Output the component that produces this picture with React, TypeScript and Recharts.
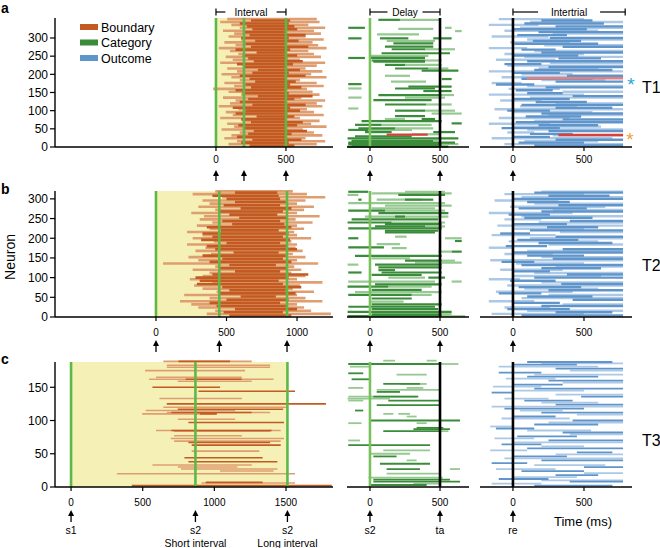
import React from "react";
import { ComposedChart, XAxis, YAxis, ReferenceLine, ReferenceArea } from "recharts";

// [neuron, start ms, end ms]
type Seg = [number, number, number];

const FONT = '"Liberation Sans", Arial, Helvetica, sans-serif';

// ---------- event times / ticks ----------
const intervalCuesA = [0, 200, 500];
const intervalCuesB = [0, 449, 929];
const intervalCuesC = [0, 868, 1510];
const intervalShadeEnds = [500, 929, 1510];
const delayEvents = [0, 500];
const intertrialEvents = [0];
const intertrialEnd = 790;

const intervalTicksA = [0, 500];
const intervalTicksB = [0, 500, 1000];
const intervalTicksC = [0, 500, 1000, 1500];
const delayTicks = [0, 500];
const intertrialTicks = [0, 500];
const neuronTicksAB = [0, 50, 100, 150, 200, 250, 300];
const neuronTicksC = [0, 50, 100, 150];

const legendItems = ["Boundary", "Category", "Outcome"];
const rowTags = ["T1", "T2", "T3"];

// ---------- row a ----------
const aIntervalStrong: Seg[] = [
  [4, 240, 560], [12, 180, 520], [20, 260, 610], [28, 150, 500], [36, 230, 540], [44, 270, 650],
  [52, 200, 505], [60, 160, 580], [68, 250, 620], [76, 180, 500], [84, 290, 560], [92, 140, 510],
  [100, 210, 600], [108, 120, 530], [116, 260, 640], [124, 170, 500], [132, 230, 560], [140, 300, 690],
  [148, 190, 520], [156, 140, 500], [164, 250, 610], [172, 210, 530], [180, 280, 570], [188, 240, 500],
  [196, 170, 640], [204, 260, 520], [212, 300, 600], [220, 200, 500], [228, 150, 550], [236, 270, 620],
  [244, 230, 510], [252, 190, 580], [260, 290, 500], [268, 140, 530], [276, 250, 660], [284, 210, 500],
  [292, 280, 590], [300, 180, 520], [308, 240, 640], [316, 200, 500], [324, 260, 580], [332, 220, 560],
  [340, 170, 520], [348, 250, 530],
];
const aIntervalWeak: Seg[] = [
  [8, 90, 720], [16, 150, 780], [24, 60, 640], [32, 110, 760], [40, 170, 700], [48, 40, 620],
  [56, 130, 790], [64, 80, 680], [72, 190, 740], [80, 30, 600], [88, 120, 770], [96, 70, 700],
  [104, 160, 650], [112, 20, 760], [120, 100, 720], [128, 140, 780], [136, 50, 610], [144, 180, 740],
  [152, 90, 690], [160, -20, 650], [168, 130, 770], [176, 60, 720], [184, 170, 600], [192, 110, 790],
  [200, 40, 680], [208, 150, 760], [216, 80, 640], [224, 190, 720], [232, 30, 780], [240, 120, 600],
  [248, 70, 750], [256, 160, 700], [264, 100, 660], [272, 20, 790], [280, 140, 730], [288, 60, 690],
  [296, 180, 770], [304, 90, 640], [312, 130, 750], [320, 50, 700], [328, 170, 780], [336, 110, 660],
  [344, 30, 740], [352, 80, 720],
];
const aDelayStrong: Seg[] = [
  [350, 60, 214], [328, -155, -36], [299, -155, -60], [299, 71, 274], [299, 452, 583], [285, 167, 452],
  [276, 107, 452], [269, 155, 393], [258, 83, 571], [245, -155, -36], [245, 0, 393], [238, 12, 393],
  [235, 24, 393], [226, 107, 250], [216, 179, 417], [210, 369, 631], [187, 512, 583], [173, -155, -60],
  [166, 274, 583], [161, 179, 464], [154, 381, 583], [143, 60, 512], [129, 24, 440], [117, 107, 400],
  [100, 179, 393], [85, 179, 393], [77, 369, 464], [71, -60, 512], [65, 583, 655], [61, -107, 83],
  [51, -83, 179], [47, -155, -12], [41, -36, 155], [41, 452, 607], [29, -107, 298], [24, -160, 631],
  [16, -131, 450], [12, -155, 607], [8, -155, 512], [4, -131, 488], [1, -160, 560],
];
const aDelayWeak: Seg[] = [
  [350, 214, 500], [328, 536, 583], [325, 202, 452], [319, 607, 655], [310, 50, 350], [292, 119, 464],
  [269, 393, 607], [251, 0, 417], [238, 393, 512], [226, 250, 512], [216, 417, 560], [196, 107, 286],
  [180, 150, 400], [161, -155, -60], [143, 512, 600], [136, -155, -60], [136, 250, 536], [117, 400, 583],
  [106, -155, -83], [100, 393, 607], [92, 440, 655], [77, 107, 250], [61, 83, 440], [51, 179, 452],
  [47, -12, 300], [35, 300, 500], [18, -131, 488], [8, 512, 631],
];
const aDelayMarked: Seg[] = [[34, 119, 412]];
const aOutcomeStrong: Seg[] = [
  [4, 150, 775], [12, 40, 500], [20, 300, 775], [28, 0, 260], [36, 120, 420], [44, 250, 775],
  [52, -80, 330], [60, 180, 600], [68, 20, 775], [76, 350, 775], [84, 90, 480], [92, 200, 775],
  [100, -40, 260], [108, 300, 700], [116, 60, 775], [124, 160, 520], [132, 0, 400], [140, 420, 775],
  [148, 100, 350], [156, 20, 280], [164, 230, 775], [172, -120, 150], [180, 300, 775], [188, 60, 560],
  [196, 380, 775], [204, 0, 330], [212, 150, 700], [220, 250, 775], [228, -60, 200], [236, 100, 775],
  [244, 320, 620], [252, 0, 460], [260, 200, 775], [268, 60, 300], [276, 350, 775], [284, 10, 600],
  [292, 140, 480], [300, 260, 775], [308, 30, 380], [316, 180, 775], [324, 0, 520], [332, 300, 775],
  [340, 80, 640], [348, 200, 560],
];
const aOutcomeWeak: Seg[] = [
  [8, -60, 775], [16, 80, 600], [24, -150, 700], [32, 280, 775], [40, -40, 150], [48, 100, 775],
  [56, 0, 620], [64, -170, 260], [72, 150, 775], [80, -100, 400], [88, 250, 775], [96, 0, 560],
  [104, -130, 775], [112, 50, 450], [120, 300, 775], [128, -90, 200], [136, 120, 775], [144, -170, 500],
  [152, 350, 775], [160, -30, 330], [168, 100, 775], [176, -150, 60], [184, 200, 650], [192, -80, 775],
  [200, 60, 420], [208, -170, 775], [216, 180, 600], [224, -40, 775], [232, 260, 775], [240, -120, 300],
  [248, 80, 775], [256, -60, 500], [264, 150, 775], [272, -170, 100], [280, 220, 775], [288, -20, 400],
  [296, 100, 775], [304, -150, 250], [312, 280, 775], [320, -60, 600], [328, 50, 775], [336, -170, 180],
  [344, 120, 775], [352, -100, 500],
];
const aOutcomeStarCyan: Seg[] = [[189, 96, 775]];
const aOutcomeStarOrange: Seg[] = [[33, 320, 775]];

// ---------- row b ----------
const bIntervalStrong: Seg[] = [
  [4, 520, 960], [12, 480, 900], [20, 560, 1000], [28, 430, 930], [36, 380, 880], [44, 500, 940],
  [52, 600, 850], [60, 450, 990], [68, 520, 920], [76, 470, 1030], [84, 290, 900], [92, 310, 870],
  [100, 280, 940], [108, 400, 1080], [116, 560, 880], [124, 450, 930], [132, 520, 850], [140, 380, 960],
  [148, 470, 900], [156, 330, 920], [164, 550, 870], [172, 420, 1000], [180, 360, 930], [188, 500, 880],
  [196, 320, 950], [204, 400, 900], [212, 330, 940], [220, 460, 870], [228, 360, 960], [236, 540, 910],
  [244, 470, 880], [252, 590, 930], [260, 520, 860], [268, 440, 900], [276, 600, 960], [284, 480, 880],
  [292, 560, 920], [300, 500, 880], [308, 400, 870], [316, 560, 860],
];
const bIntervalWeak: Seg[] = [
  [8, 360, 1240], [16, 420, 1100], [24, 300, 1050], [32, 250, 1000], [40, 170, 1180], [48, 380, 1060],
  [56, 200, 1000], [64, 430, 1120], [72, 330, 970], [80, 270, 1020], [88, 400, 1180], [96, 240, 1000],
  [104, 330, 1060], [112, 380, 960], [120, 260, 1030], [128, 420, 980], [136, 50, 1150], [144, 300, 1000],
  [152, 230, 1060], [160, 390, 970], [168, 280, 1040], [176, 350, 990], [184, 220, 1000], [192, 410, 960],
  [200, 260, 1100], [208, 330, 1000], [216, 220, 980], [224, 380, 1050], [232, 290, 1000], [240, 400, 1110],
  [248, 310, 990], [256, 340, 1160], [264, 250, 1000], [272, 420, 1050], [280, 300, 1120], [288, 380, 1000],
  [296, 330, 1060], [304, 470, 1200], [312, 260, 1070], [319, 420, 970],
];
const bDelayStrong: Seg[] = [
  [318, -155, -12], [310, 202, 536], [298, -83, -60], [298, 250, 452], [270, -155, 107], [264, 60, 560],
  [255, 179, 250], [248, -131, 488], [240, -160, 155], [236, 107, 512], [230, 36, 393], [225, -155, 512],
  [219, 107, 488], [215, 107, 464], [200, -155, -83], [193, 607, 655], [177, -155, 100], [166, 583, 655],
  [155, -107, 512], [143, 250, 512], [133, 36, 512], [126, 60, 512], [119, 60, 179], [113, -155, -60],
  [113, 83, 512], [107, 12, 369], [100, 417, 536], [83, 36, 512], [77, -160, 131], [69, 12, 369],
  [56, -155, 298], [47, 12, 298], [32, 12, 512], [26, -155, 464], [20, 12, 488], [13, -160, 583],
  [7, 12, 512], [2, -160, 512],
];
const bDelayWeak: Seg[] = [
  [318, 250, 536], [314, 12, 583], [310, -160, -83], [298, 48, 369], [289, -155, 536], [283, 107, 583],
  [276, 12, 464], [270, 107, 536], [255, -36, 560], [240, 155, 536], [230, 393, 536], [204, 179, 262],
  [200, 536, 655], [185, 48, 214], [175, 155, 262], [166, 488, 583], [149, 12, 286], [143, 512, 607],
  [138, 321, 655], [133, -160, -83], [100, 131, 393], [90, -155, 464], [90, 583, 655], [77, 131, 440],
  [63, -107, 512], [56, 298, 440], [39, 0, 240], [7, 512, 583], [2, 512, 680],
];
const bOutcomeStrong: Seg[] = [
  [4, 60, 775], [12, 300, 700], [20, -40, 400], [28, 200, 775], [36, 0, 330], [44, 420, 775],
  [52, 100, 560], [60, -100, 200], [68, 250, 775], [76, 40, 480], [84, 340, 775], [92, -20, 300],
  [100, 150, 775], [108, 380, 775], [116, 0, 260], [124, 200, 620], [132, 60, 775], [140, -80, 150],
  [148, 280, 775], [156, 100, 500], [164, 0, 775], [172, 350, 775], [180, -50, 240], [188, 180, 700],
  [196, 30, 460], [204, 300, 775], [212, -90, 120], [220, 120, 775], [228, 240, 600], [236, 0, 380],
  [244, 400, 775], [252, 80, 560], [260, -30, 260], [268, 200, 775], [276, 40, 520], [284, 320, 775],
  [292, 100, 400], [300, 0, 775], [308, 250, 680], [316, 150, 775],
];
const bOutcomeWeak: Seg[] = [
  [8, -150, 500], [16, 100, 775], [24, -60, 260], [32, 350, 775], [40, -170, 150], [48, 60, 775],
  [56, 250, 775], [64, -120, 420], [72, 80, 600], [80, -40, 775], [88, 200, 775], [96, -170, 50],
  [104, 0, 620], [112, 150, 775], [120, -90, 350], [128, 300, 775], [136, 20, 500], [144, -160, 775],
  [152, 200, 775], [160, -60, 280], [168, 100, 775], [176, -170, 0], [184, 250, 775], [192, -30, 600],
  [200, 120, 775], [208, -150, 300], [216, 330, 775], [224, 0, 500], [232, -110, 775], [240, 180, 775],
  [248, -60, 200], [256, 60, 775], [264, -170, 420], [272, 280, 775], [280, -20, 650], [288, 150, 775],
  [296, -130, 320], [304, 60, 775], [312, -60, 500], [318, 200, 775],
];

// ---------- row c ----------
const cIntervalStrong: Seg[] = [
  [189, 750, 1110], [162, 800, 1190], [150, 568, 1040], [144, 889, 1563], [125, 668, 1779], [117, 745, 1480],
  [112, 700, 1260], [110, 900, 1017], [97, 819, 1486], [85, 700, 1400], [67, 819, 1389], [63, 842, 1463],
  [44, 791, 1337], [38, 819, 1440], [7, 940, 1337], [2, 424, 1820],
];
const cIntervalWeak: Seg[] = [
  [189, 644, 1261], [183, 668, 1389], [180, 668, 1389], [175, 517, 1214], [165, 593, 1191], [162, 545, 1413],
  [159, 745, 1261], [133, 617, 1191], [120, 644, 1505], [115, 521, 1145], [112, 668, 1389], [110, 496, 1017],
  [102, 745, 1145], [85, 593, 1463], [84, 719, 1389], [77, 719, 1191], [73, 696, 1486], [69, 719, 1463],
  [54, 842, 1314], [33, 568, 1261], [30, 745, 1161], [27, 768, 1440], [24, 1040, 1413], [20, 320, 1563],
  [6, 910, 1563],
];
const cDelayStrong: Seg[] = [
  [185, -155, 500], [171, -155, -48], [162, -131, 0], [155, 95, 357], [143, 48, 214], [136, 24, 345],
  [130, 131, 500], [123, 48, 500], [115, -107, -48], [100, 0, 643], [89, 333, 524], [87, 310, 571],
  [84, 95, 500], [63, -155, 429], [46, 24, 190], [35, 71, 429], [27, 119, 357], [11, 24, 571],
  [8, 24, 643], [3, 0, 405],
];
const cDelayWeak: Seg[] = [
  [190, 95, 179], [190, 405, 476], [185, 500, 631], [181, -143, 0], [169, 190, 405], [155, 214, 405],
  [149, -155, -48], [149, 262, 381], [146, 48, 500], [136, -155, 333], [133, -160, 143], [130, -155, -48],
  [110, 95, 167], [110, 202, 286], [106, 262, 333], [96, -155, -60], [96, 333, 405], [84, 500, 560],
  [70, -155, -71], [55, 95, 429], [50, 0, 286], [40, 262, 333], [27, 571, 643], [20, 119, 500],
  [14, -10, 520], [5, 310, 500],
];
const cOutcomeStrong: Seg[] = [
  [2, 150, 700], [8, 400, 775], [12, -100, 250], [18, 300, 600], [24, 60, 500], [30, 500, 775],
  [36, -150, 100], [40, 200, 775], [46, 0, 380], [52, 450, 700], [58, 100, 775], [64, -80, 200],
  [70, 250, 775], [76, 30, 450], [82, 350, 775], [88, -120, 150], [94, 150, 600], [100, 420, 775],
  [106, 0, 300], [112, 200, 775], [118, -60, 500], [124, 300, 775], [130, 80, 420], [136, 480, 775],
  [142, -150, 0], [148, 150, 775], [154, 0, 350], [160, 250, 775], [166, 100, 600], [172, -100, 200],
  [178, 300, 775], [184, 0, 450], [188, 100, 700],
];
const cOutcomeWeak: Seg[] = [
  [5, -150, 200], [10, 200, 775], [15, 0, 450], [21, 500, 775], [27, -120, 300], [33, 150, 650],
  [43, -60, 775], [49, 300, 775], [55, -160, 100], [61, 200, 500], [67, 0, 775], [73, -130, 150],
  [79, 400, 775], [85, 100, 550], [91, -160, 0], [97, 250, 775], [103, -80, 400], [109, 450, 775],
  [115, 50, 350], [121, -150, 775], [127, 200, 600], [133, -60, 250], [139, 300, 775], [145, 0, 500],
  [151, -140, 200], [157, 350, 775], [163, -50, 300], [169, 150, 775], [175, 400, 775], [181, -100, 600],
  [186, 200, 775],
];

// ---------- colours ----------
const C = {
  boundary: "#c25a22",
  boundaryWeak: "#df9e70",
  category: "#3a8c3a",
  categoryWeak: "#96c991",
  outcome: "#5f95ca",
  outcomeWeak: "#abc8e6",
  cue: "#5cb947",
  cueDelay: "#78c25c",
  shade: "#f5f0b6",
  red: "#d9403a",
  salmon: "#e58080",
  cyan: "#29a6d9",
  orange: "#f0a040",
};

// ---------- layout ----------
type Row = { top: number; bottom: number; yMax: number; yTicks: number[]; tickMargin: number };
const rowA: Row = { top: 18, bottom: 147, yMax: 355, yTicks: neuronTicksAB, tickMargin: 5 };
const rowB: Row = { top: 191, bottom: 317, yMax: 320, yTicks: neuronTicksAB, tickMargin: 8 };
const rowC: Row = { top: 362, bottom: 487, yMax: 188, yTicks: neuronTicksC, tickMargin: 8 };

type Col = { left: number; right: number; domain: [number, number] };
const intervalColA: Col = { left: 55, right: 333, domain: [-1150, 836] };
const intervalColB: Col = { left: 55, right: 333, domain: [-716, 1255] };
const intervalColC: Col = { left: 55, right: 333, domain: [-112, 1828] };
const delayCol: Col = { left: 347, right: 469, domain: [-164, 707] };
const intertrialCol: Col = { left: 480, right: 632, domain: [-232, 838] };

const px = (col: Col, ms: number) =>
  col.left + ((ms - col.domain[0]) / (col.domain[1] - col.domain[0])) * (col.right - col.left);

const PAD = 4;
const XH = 26;
const YW = 42;

type Extra = { segs: Seg[]; color: string };

function Raster(props: {
  row: Row;
  col: Col;
  showY?: boolean;
  xTicks: number[];
  weak: Seg[];
  strong: Seg[];
  weakColor: string;
  strongColor: string;
  lw: number;
  shadeEnd?: number;
  cues: { t: number; color: string }[];
  extras?: Extra[];
}) {
  const { row, col, showY, xTicks, weak, strong, weakColor, strongColor, lw, shadeEnd, cues, extras } = props;
  const yW = showY ? YW : 0;
  const plotW = col.right - col.left;
  const plotH = row.bottom - row.top;
  const seg = (s: Seg, color: string, key: string) => (
    <ReferenceLine
      key={key}
      segment={[
        { x: s[1], y: s[0] },
        { x: s[2], y: s[0] },
      ]}
      stroke={color}
      strokeWidth={lw}
      ifOverflow="visible"
    />
  );
  return (
    <div style={{ position: "absolute", left: col.left - yW, top: row.top - PAD }}>
      <ComposedChart
        width={yW + plotW + PAD}
        height={PAD + plotH + XH}
        margin={{ top: PAD, right: PAD, bottom: 0, left: 0 }}
      >
        <XAxis
          type="number"
          dataKey="x"
          domain={col.domain}
          ticks={xTicks}
          interval={0}
          allowDataOverflow
          height={XH}
          tickSize={4}
          tickMargin={row.tickMargin}
          tick={{ fontSize: 10, fill: "#000", fontFamily: FONT }}
          axisLine={{ stroke: "#000", strokeWidth: 1.4 }}
          tickLine={{ stroke: "#000", strokeWidth: 1.2 }}
        />
        <YAxis
          type="number"
          dataKey="y"
          domain={[0, row.yMax]}
          ticks={row.yTicks}
          interval={0}
          allowDataOverflow
          hide={!showY}
          width={yW}
          tickSize={5}
          tickMargin={2}
          tick={{ fontSize: 12, fill: "#000", fontFamily: FONT }}
          axisLine={{ stroke: "#000", strokeWidth: 1.4 }}
          tickLine={{ stroke: "#000", strokeWidth: 1.2 }}
        />
        {shadeEnd !== undefined && (
          <ReferenceArea x1={0} x2={shadeEnd} y1={0} y2={row.yMax} fill={C.shade} fillOpacity={1} stroke="none" ifOverflow="visible" />
        )}
        {weak.map((s, i) => seg(s, weakColor, `w${i}`))}
        {strong.map((s, i) => seg(s, strongColor, `s${i}`))}
        {(extras || []).flatMap((ex, j) => ex.segs.map((s, i) => seg(s, ex.color, `e${j}-${i}`)))}
        {cues.map((c, i) => (
          <ReferenceLine key={`c${i}`} x={c.t} stroke={c.color} strokeWidth={2.6} ifOverflow="visible" />
        ))}
      </ComposedChart>
    </div>
  );
}

function Arrow({ x, y1, y2 }: { x: number; y1: number; y2: number }) {
  return (
    <g>
      <line x1={x} y1={y1 + 4} x2={x} y2={y2} stroke="#000" strokeWidth={1.3} />
      <polygon points={`${x},${y1} ${x - 3},${y1 + 6} ${x + 3},${y1 + 6}`} fill="#000" />
    </g>
  );
}

function Bracket({ x1, x2, y, label }: { x1: number; x2: number; y: number; label: string }) {
  const mid = (x1 + x2) / 2;
  const half = label.length * 2.7 + 4;
  return (
    <g>
      <line x1={x1} y1={y - 3.5} x2={x1} y2={y + 3.5} stroke="#000" strokeWidth={1.2} />
      <line x1={x2} y1={y - 3.5} x2={x2} y2={y + 3.5} stroke="#000" strokeWidth={1.2} />
      <line x1={x1} y1={y} x2={mid - half} y2={y} stroke="#000" strokeWidth={1.2} />
      <line x1={mid + half} y1={y} x2={x2} y2={y} stroke="#000" strokeWidth={1.2} />
      <text x={mid} y={y + 3.5} fontSize={10} textAnchor="middle" fontFamily={FONT}>
        {label}
      </text>
    </g>
  );
}

export default function App() {
  const cueList = (cuesArr: number[], color: string) => cuesArr.map((t) => ({ t, color }));
  const delayCues = [
    { t: delayEvents[0], color: C.cueDelay },
    { t: delayEvents[1], color: "#000" },
  ];
  const itCues = intertrialEvents.map((t) => ({ t, color: "#000" }));

  const arrowRows: { y1: number; y2: number; col: Col; cues: number[] }[] = [
    { y1: 170, y2: 181, col: intervalColA, cues: intervalCuesA },
    { y1: 340, y2: 352, col: intervalColB, cues: intervalCuesB },
    { y1: 510, y2: 522, col: intervalColC, cues: intervalCuesC },
  ];
  const swatch = [C.boundary, C.category, C.outcome];

  return (
    <div style={{ position: "absolute", left: 0, top: 0, width: 660, height: 548, background: "#fff", fontFamily: FONT }}>
      {/* row a */}
      <Raster row={rowA} col={intervalColA} showY xTicks={intervalTicksA} weak={aIntervalWeak} strong={aIntervalStrong}
        weakColor={C.boundaryWeak} strongColor={C.boundary} lw={2.6} shadeEnd={intervalShadeEnds[0]}
        cues={cueList(intervalCuesA, C.cue)} />
      <Raster row={rowA} col={delayCol} xTicks={delayTicks} weak={aDelayWeak} strong={aDelayStrong}
        weakColor={C.categoryWeak} strongColor={C.category} lw={2.2} cues={delayCues}
        extras={[{ segs: aDelayMarked, color: C.red }]} />
      <Raster row={rowA} col={intertrialCol} xTicks={intertrialTicks} weak={aOutcomeWeak} strong={aOutcomeStrong}
        weakColor={C.outcomeWeak} strongColor={C.outcome} lw={2.4} cues={itCues}
        extras={[{ segs: aOutcomeStarCyan, color: C.salmon }, { segs: aOutcomeStarOrange, color: C.red }]} />

      {/* row b */}
      <Raster row={rowB} col={intervalColB} showY xTicks={intervalTicksB} weak={bIntervalWeak} strong={bIntervalStrong}
        weakColor={C.boundaryWeak} strongColor={C.boundary} lw={2.6} shadeEnd={intervalShadeEnds[1]}
        cues={cueList(intervalCuesB, C.cue)} />
      <Raster row={rowB} col={delayCol} xTicks={delayTicks} weak={bDelayWeak} strong={bDelayStrong}
        weakColor={C.categoryWeak} strongColor={C.category} lw={2.2} cues={delayCues} />
      <Raster row={rowB} col={intertrialCol} xTicks={intertrialTicks} weak={bOutcomeWeak} strong={bOutcomeStrong}
        weakColor={C.outcomeWeak} strongColor={C.outcome} lw={2.4} cues={itCues} />

      {/* row c */}
      <Raster row={rowC} col={intervalColC} showY xTicks={intervalTicksC} weak={cIntervalWeak} strong={cIntervalStrong}
        weakColor={C.boundaryWeak} strongColor={C.boundary} lw={1.6} shadeEnd={intervalShadeEnds[2]}
        cues={cueList(intervalCuesC, C.cue)} />
      <Raster row={rowC} col={delayCol} xTicks={delayTicks} weak={cDelayWeak} strong={cDelayStrong}
        weakColor={C.categoryWeak} strongColor={C.category} lw={1.8} cues={delayCues} />
      <Raster row={rowC} col={intertrialCol} xTicks={intertrialTicks} weak={cOutcomeWeak} strong={cOutcomeStrong}
        weakColor={C.outcomeWeak} strongColor={C.outcome} lw={1.8} cues={itCues} />

      <svg width={660} height={548} style={{ position: "absolute", left: 0, top: 0, pointerEvents: "none" }}>
        <text x={1} y={13} fontSize={14} fontWeight="bold">a</text>
        <text x={1} y={194} fontSize={14} fontWeight="bold">b</text>
        <text x={1} y={364} fontSize={14} fontWeight="bold">c</text>

        {legendItems.map((name, i) => (
          <g key={name}>
            <rect x={80} y={24 + i * 15.5} width={18} height={6} fill={swatch[i]} />
            <text x={101} y={31.5 + i * 15.5} fontSize={12.5}>{name}</text>
          </g>
        ))}

        <Bracket x1={px(intervalColA, 0)} x2={px(intervalColA, 500)} y={12} label="Interval" />
        <Bracket x1={px(delayCol, delayEvents[0])} x2={px(delayCol, delayEvents[1])} y={12} label="Delay" />
        <Bracket x1={px(intertrialCol, 0)} x2={px(intertrialCol, intertrialEnd)} y={12} label="Intertrial" />

        {arrowRows.map((r, i) => (
          <g key={i}>
            {r.cues.map((t) => <Arrow key={`i${t}`} x={px(r.col, t)} y1={r.y1} y2={r.y2} />)}
            {delayEvents.map((t) => <Arrow key={`d${t}`} x={px(delayCol, t)} y1={r.y1} y2={r.y2} />)}
            {intertrialEvents.map((t) => <Arrow key={`t${t}`} x={px(intertrialCol, t)} y1={r.y1} y2={r.y2} />)}
          </g>
        ))}

        <g fontSize={10.5} textAnchor="middle">
          <text x={px(intervalColC, intervalCuesC[0])} y={534}>s1</text>
          <text x={px(intervalColC, intervalCuesC[1])} y={534}>s2</text>
          <text x={px(intervalColC, intervalCuesC[1])} y={546.5}>Short interval</text>
          <text x={px(intervalColC, intervalCuesC[2])} y={534}>s2</text>
          <text x={px(intervalColC, intervalCuesC[2])} y={546.5}>Long interval</text>
          <text x={px(delayCol, delayEvents[0])} y={534}>s2</text>
          <text x={px(delayCol, delayEvents[1])} y={534}>ta</text>
          <text x={px(intertrialCol, intertrialEvents[0])} y={534}>re</text>
        </g>
        <text x={554} y={526} fontSize={13}>Time (ms)</text>

        <text transform="translate(15,257) rotate(-90)" fontSize={14} textAnchor="middle">Neuron</text>

        {rowTags.map((t, i) => (
          <text key={t} x={642} y={[93, 271, 446][i]} fontSize={16}>{t}</text>
        ))}
        <text x={631} y={91} fontSize={19} fill={C.cyan} textAnchor="middle">*</text>
        <text x={630} y={146} fontSize={19} fill={C.orange} textAnchor="middle">*</text>
      </svg>
    </div>
  );
}
